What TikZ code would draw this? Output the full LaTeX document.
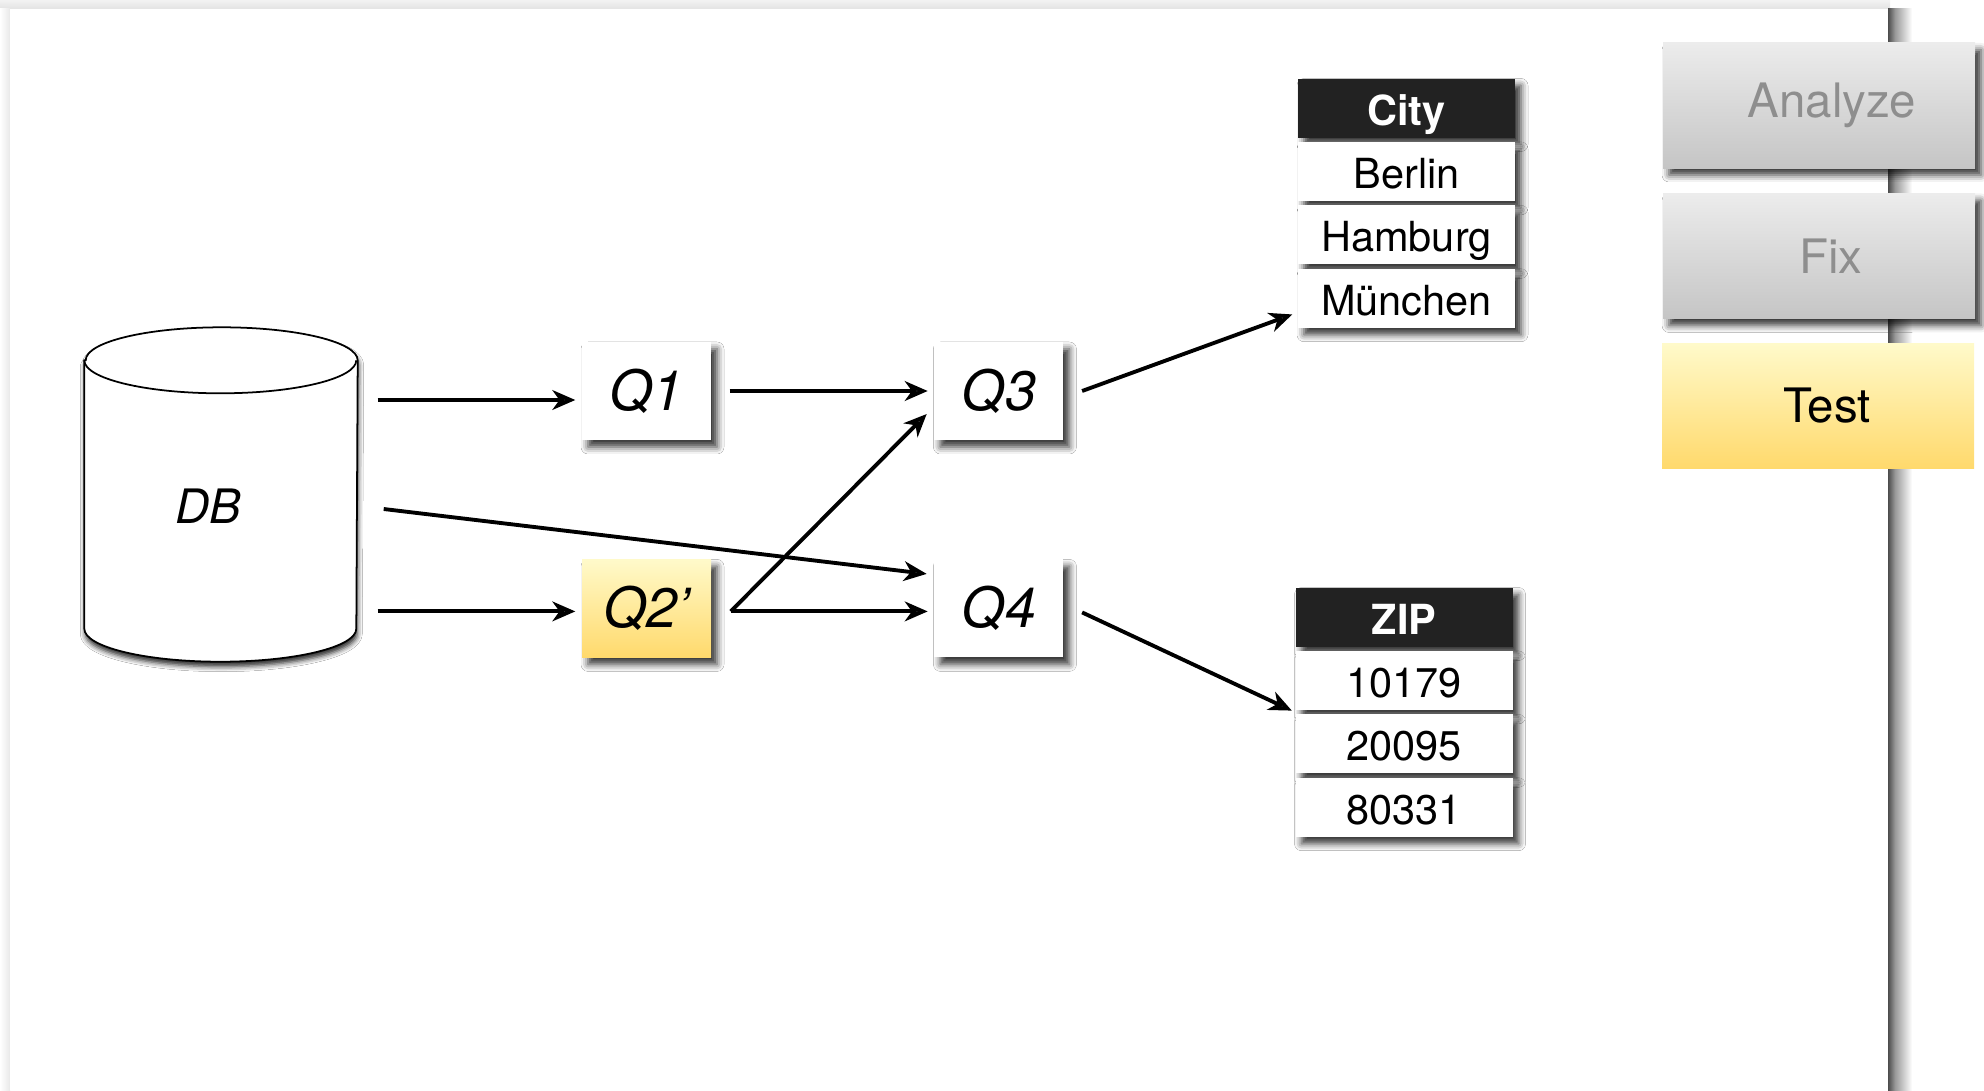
\documentclass[tikz,border=0pt]{standalone}
\usepackage{fontspec}
\setmainfont{TeX Gyre Heros}
\usetikzlibrary{positioning,shadows.blur,arrows.meta}
\definecolor{hdr}{HTML}{222222}
\definecolor{goldtop}{HTML}{FFFACA}
\definecolor{goldbot}{HTML}{FFD96C}
\definecolor{btntop}{HTML}{ECECEC}
\definecolor{btnbot}{HTML}{C5C5C5}
\definecolor{btntxt}{HTML}{8E8E8E}
\begin{document}
\begin{tikzpicture}[
conn/.style={line width=1.1pt, -{Stealth[length=6.5pt,width=5.6pt,inset=2pt]}},
soft/.style={blur shadow={shadow xshift=0.06cm, shadow yshift=-0.07cm,
  shadow blur radius=0.07cm, shadow opacity=80}},
qbox/.style={rectangle, fill=white, minimum width=1.29cm, minimum height=0.98cm,
  inner sep=0pt, font=\fontsize{15.8}{18}\selectfont\itshape, soft},
cell/.style={rectangle, fill=white, minimum width=2.17cm, minimum height=0.59cm,
  inner sep=0pt, text height=0.40cm, text depth=0.06cm,
  font=\fontsize{11.8}{14}\selectfont, soft},
hcell/.style={cell, fill=hdr, text=white, font=\fontsize{11.8}{14}\selectfont\bfseries},
btn/.style={rectangle, minimum width=3.12cm, minimum height=1.25cm, inner sep=0pt,
  top color=btntop, bottom color=btnbot},
btnlbl/.style={font=\fontsize{13.5}{16}\selectfont},
]
\useasboundingbox (0,0) rectangle (19.84,10.90);
% slide and its edges
\fill[top color=gray!10, bottom color=gray!22] (0,10.81) rectangle (18.90,10.90);
\fill[left color=white, right color=gray!18] (0,0) rectangle (0.10,10.81);
\fill[white] (0.10,0) rectangle (18.88,10.81);
\fill[left color=black!70, right color=black!40] (18.88,0) rectangle (18.95,10.81);
\fill[left color=black!40, right color=white] (18.95,0) rectangle (19.12,10.81);

% database
\node[minimum width=2.72cm, minimum height=3.33cm, inner sep=0pt] (db) at (2.21,5.955) {};
\draw[fill=white, line width=0.5pt,
  blur shadow={shadow xshift=0.01cm, shadow yshift=-0.05cm, shadow blur radius=0.05cm, shadow opacity=85}]
  ([yshift=-0.33cm]db.north west) -- ([yshift=0.33cm]db.south west)
  arc[start angle=180, end angle=360, x radius=1.36, y radius=0.33]
  -- ([yshift=-0.33cm]db.north east)
  arc[start angle=0, end angle=180, x radius=1.36, y radius=0.33] -- cycle;
\draw[line width=0.5pt] ([yshift=-0.33cm]db.north west)
  arc[start angle=180, end angle=360, x radius=1.36, y radius=0.33];
\node[font=\fontsize{13.5}{16}\selectfont\itshape] (dbname) at ([xshift=-0.13cm,yshift=-0.12cm]db.center) {DB};

% queries
\node[qbox] (q1) at (6.465,6.99) {Q1};
\node[qbox, right=2.22cm of q1] (q3) {Q3};
\node[qbox, below=1.18cm of q1, top color=goldtop, bottom color=goldbot] (q2) {Q2’};
\node[qbox, right=2.22cm of q2] (q4) {Q4};

% result tables
\node[hcell] (c0) at (14.065,9.82) {City};
\foreach \t [count=\i, remember=\i as \j (initially 0)] in {Berlin,Hamburg,München}
  \node[cell, below=0.03cm of c\j] (c\i) {\t};
\node[hcell] (z0) at (14.04,4.73) {ZIP};
\foreach \t [count=\i, remember=\i as \j (initially 0)] in {10179,20095,80331}
  \node[cell, below=0.03cm of z\j] (z\i) {\t};

\draw[conn] (db.east |- q1.west) ++(0.2,-0.09) -- ([xshift=-0.06cm,yshift=-0.09cm]q1.west);
\draw[conn] (db.east |- q2.west) ++(0.2,-0.03) -- ([xshift=-0.06cm,yshift=-0.03cm]q2.west);
\draw[conn] ([xshift=0.26cm,yshift=-0.145cm]db.east) -- ([xshift=-0.07cm,yshift=0.345cm]q4.west);
\draw[conn, shorten <=0.18cm, shorten >=0.06cm] (q1) -- (q3);
\draw[conn] ([xshift=0.19cm,yshift=-0.03cm]q2.east) -- ([xshift=-0.07cm,yshift=-0.23cm]q3.west);
\draw[conn] ([xshift=0.19cm,yshift=-0.03cm]q2.east) -- ([xshift=-0.06cm,yshift=-0.03cm]q4.west);
\draw[conn] ([xshift=0.18cm]q3.east) -- ([xshift=-0.05cm,yshift=0.14cm]c3.south west);
\draw[conn] ([xshift=0.18cm,yshift=-0.04cm]q4.east) -- ([xshift=-0.03cm]z1.south west);

% steps
\node[btn, soft, label={[btnlbl, text=btntxt, xshift=0.13cm]center:Analyze}] (an) at (18.19,9.845) {};
\node[btn, soft, label={[btnlbl, text=btntxt, xshift=0.12cm]center:Fix}] (fx) at (18.19,8.34) {};
\node[btn, top color=goldtop, bottom color=goldbot,
  label={[btnlbl, xshift=0.09cm]center:Test}] (ts) at (18.18,6.84) {};
\end{tikzpicture}
\end{document}
